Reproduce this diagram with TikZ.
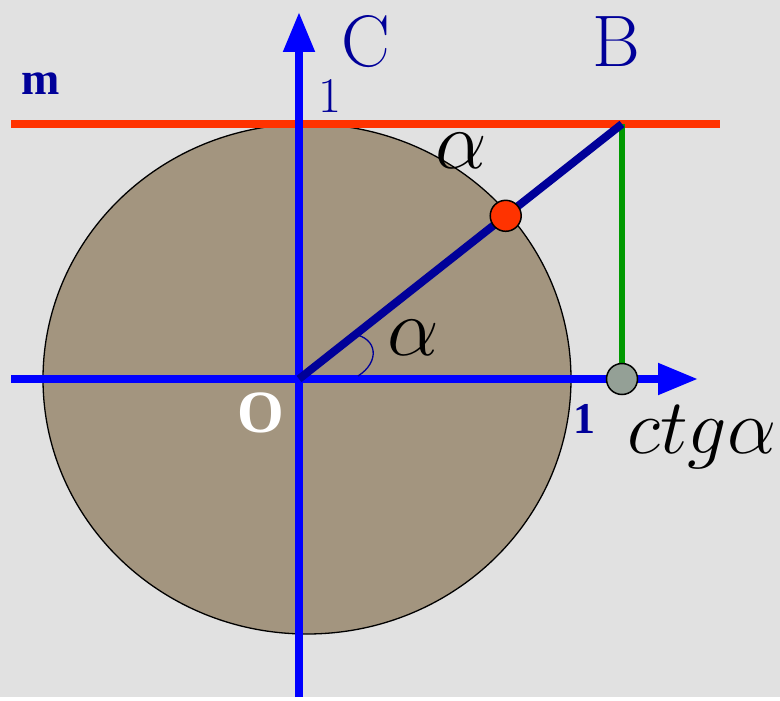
\RequirePackage{fix-cm}
\documentclass[tikz,border=0pt]{standalone}
\usepackage{fontspec}
\setmainfont{Liberation Serif}
\newfontfamily\lmfont{Latin Modern Roman}
\usepackage{tikz}
\usetikzlibrary{arrows.meta,calc}
\definecolor{paper}{HTML}{E1E1E1}
\definecolor{disk}{HTML}{A3957F}
\definecolor{axisblue}{HTML}{0000FF}
\definecolor{rayblue}{HTML}{000099}
\definecolor{tangred}{HTML}{FF3300}
\definecolor{legreen}{HTML}{009900}
\definecolor{dotgray}{HTML}{94A096}
\newcommand{\sz}[1]{\fontsize{#1}{#1}\selectfont}

\begin{document}
\begin{tikzpicture}[x=1pt, y=-1pt,
  axis/.style={axisblue, line width=8pt, -{Triangle[length=40pt, width=30pt]}},
  dot/.style={circle, draw=black, line width=1.5pt, minimum size=31pt, inner sep=0pt},
  lbl/.style={anchor=base, inner sep=0pt}]

% backdrop and unit disk
\fill[paper] (0,0) rectangle (780,697);
\filldraw[fill=disk, draw=black, line width=1.3pt]
  (307,379) ellipse [x radius=264pt, y radius=255pt];

\coordinate (O) at (299,379);
\coordinate (B) at (622,124);
\coordinate (Bx) at (622,379);
\coordinate (xs) at (11,379);
\coordinate (xe) at (698,379);
\coordinate (ys) at (299,697);
\coordinate (ye) at (299,12);
\coordinate (ms) at (11,124);
\coordinate (me) at (720,124);

% line m and the axes
\draw[tangred, line width=8pt] (ms) -- (me);
\draw[axis] (xs) -- (xe);
\draw[axis] (ys) -- (ye);
\draw[legreen, line width=6pt] (B) -- (Bx);
\draw[rayblue, line width=8pt] (O) -- (B);
\draw[rayblue, line width=1.3pt] (358,376) .. controls (380,362) and (378,338) .. (353,334);

\node[dot, fill=tangred] (P) at ($(O)!0.64!(B)$) {};
\node[dot, fill=dotgray] (X) at (Bx) {};

% labels
\node[lbl, text=rayblue, font=\lmfont\sz{73}] (lblC) at (366,67) {C};
\node[lbl, text=rayblue, font=\lmfont\sz{73}] (lblB) at (616,67) {B};
\node[lbl, text=rayblue, font=\sz{46}\bfseries] (lblm) at (41,95) {m};
\node[lbl, text=rayblue, font=\lmfont\sz{50}] (lblone) at (330,113) {1};
\node[lbl, text=rayblue, font=\sz{44}\bfseries] (lblunit) at (584,433) {1};
\node[lbl, text=white, font=\sz{60}\bfseries] (lblO) at (261,432) {O};
\node[lbl, font=\sz{82}] (alphatop) at (461,168) {$\alpha$};
\node[lbl, font=\sz{82}] (alphaO) at (413,355) {$\alpha$};
\node[lbl, font=\sz{78}] (lblctg) at (702,453) {$ctg\alpha$};

\end{tikzpicture}
\end{document}
